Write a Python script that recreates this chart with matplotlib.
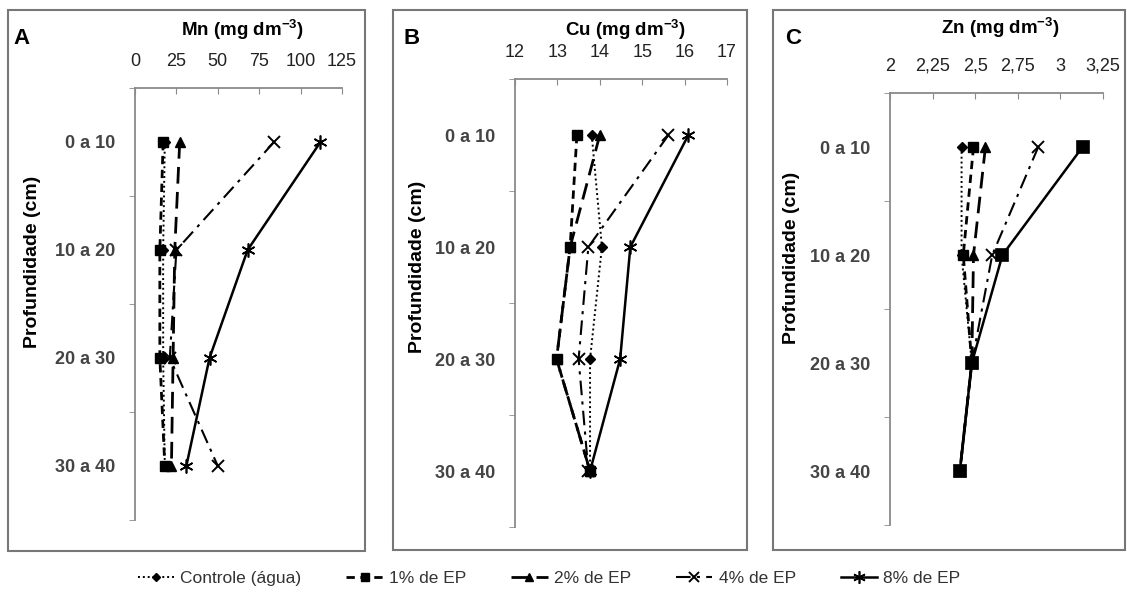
import matplotlib
matplotlib.use("Agg")
import matplotlib.pyplot as plt
from matplotlib.patches import Rectangle
from matplotlib.lines import Line2D

plt.rcParams['font.family'] = ['Liberation Sans', 'DejaVu Sans']
plt.rcParams['mathtext.default'] = 'regular'

depths = ["0 a 10", "10 a 20", "20 a 30", "30 a 40"]
series = ["Controle (água)", "1% de EP", "2% de EP", "4% de EP", "8% de EP"]

# Mn (mg dm-3)
mn_controle = [18, 17, 17, 18]
mn_1 = [17, 15, 15, 18]
mn_2 = [27, 24, 23, 22]
mn_4 = [84, 25, 21, 50]
mn_8 = [112, 68, 45, 31]

# Cu (mg dm-3)
cu_controle = [13.81, 14.05, 13.77, 13.77]
cu_1 = [13.46, 13.30, 12.98, 13.77]
cu_2 = [14.00, 13.30, 12.98, 13.77]
cu_4 = [15.62, 13.73, 13.50, 13.73]
cu_8 = [16.09, 14.72, 14.48, 13.77]

# Zn (mg dm-3)
zn_controle = [2.42, 2.42, 2.48, 2.41]
zn_1 = [2.49, 2.43, 2.48, 2.41]
zn_2 = [2.56, 2.49, 2.48, 2.41]
zn_4 = [2.87, 2.60, 2.48, 2.41]
zn_8 = [3.13, 2.66, 2.48, 2.41]

mn_ticks = [0, 25, 50, 75, 100, 125]
mn_labels = ["0", "25", "50", "75", "100", "125"]
cu_ticks = [12, 13, 14, 15, 16, 17]
cu_labels = ["12", "13", "14", "15", "16", "17"]
zn_ticks = [2, 2.25, 2.5, 2.75, 3, 3.25]
zn_labels = ["2", "2,25", "2,5", "2,75", "3", "3,25"]

W, H = 1127, 608
fig = plt.figure(figsize=(W / 100, H / 100), dpi=100)

asterisk = (6, 2, 0)
styles = [
    dict(ls=(0, (1, 1.5)), lw=1.4, marker='D', ms=5),
    dict(ls=(0, (3, 2)), lw=2.0, marker='s', ms=7),
    dict(ls=(0, (6, 3)), lw=2.0, marker='^', ms=7),
    dict(ls=(0, (7, 3, 1.5, 3)), lw=1.5, marker='x', ms=8, mew=1.4),
    dict(ls='-', lw=1.8, marker=asterisk, ms=10, mew=1.2),
]

gray = '#8a8a8a'
ypos = [0.5, 1.5, 2.5, 3.5]


def px(x0, y_top, x1, y_bot):
    return [x0 / W, 1 - y_bot / H, (x1 - x0) / W, (y_bot - y_top) / H]


def panel(rect, data, xlim, ticks, labels, title, letter, box, letter_xy, ylab_xy, title_y, last_marker=None):
    ax = fig.add_axes(rect)
    for i, vals in enumerate(data):
        st = dict(styles[i])
        if i == 4 and last_marker:
            st['marker'] = last_marker
            st['ms'] = 8
        ax.plot(vals, ypos, color='black', zorder=3 + i, clip_on=False, **st)
    ax.set_xlim(xlim)
    ax.set_ylim(4, 0)
    ax.xaxis.tick_top()
    ax.set_xticks(ticks)
    ax.set_xticklabels(labels, fontsize=13, color='#222222')
    ax.tick_params(axis='x', direction='in', length=4, color=gray, pad=13)
    ax.set_yticks(ypos)
    ax.set_yticklabels(depths, fontsize=13, fontweight='bold', color='#444444')
    ax.tick_params(axis='y', length=0, pad=14)
    ax.set_yticks([0, 1, 2, 3, 4], minor=True)
    ax.tick_params(axis='y', which='minor', direction='out', length=4, color=gray)
    for s in ['right', 'bottom']:
        ax.spines[s].set_visible(False)
    for s in ['left', 'top']:
        ax.spines[s].set_color(gray)
        ax.spines[s].set_linewidth(1.3)
    ax.patch.set_alpha(0)
    x0, y0, x1, y1 = box
    fig.patches.append(Rectangle((x0 / W, 1 - y1 / H), (x1 - x0) / W, (y1 - y0) / H,
                                 transform=fig.transFigure, fill=False,
                                 edgecolor='#777777', lw=1.5))
    fig.text(letter_xy[0] / W, 1 - letter_xy[1] / H, letter, fontsize=16,
             fontweight='bold', ha='center', va='center')
    fig.text((rect[0] + rect[2] * 0.52), 1 - title_y / H, title, fontsize=13.5,
             fontweight='bold', ha='center', va='center')
    fig.text(ylab_xy[0] / W, 1 - ylab_xy[1] / H, "Profundidade (cm)", fontsize=14,
             fontweight='bold', rotation=90, ha='center', va='center')
    return ax


panel(px(135, 88, 342, 520), [mn_controle, mn_1, mn_2, mn_4, mn_8], (0, 125),
      mn_ticks, mn_labels, r"Mn (mg dm$^{-3}$)", "A", (8, 10, 365, 551),
      (22, 38), (33, 262), 30)
panel(px(515, 79, 727, 527), [cu_controle, cu_1, cu_2, cu_4, cu_8], (12, 17),
      cu_ticks, cu_labels, r"Cu (mg dm$^{-3}$)", "B", (393, 10, 747, 550),
      (412, 38), (417, 267), 30)
panel(px(890, 93, 1103, 525), [zn_controle, zn_1, zn_2, zn_4, zn_8], (2, 3.25),
      zn_ticks, zn_labels, r"Zn (mg dm$^{-3}$)", "C", (773, 10, 1125, 550),
      (793, 38), (792, 258), 28, last_marker='s')

handles = []
for i, name in enumerate(series):
    st = dict(styles[i])
    st['ms'] = st['ms'] * 0.9
    handles.append(Line2D([], [], color='black', label=name, **st))
leg = fig.legend(handles=handles, loc='center', bbox_to_anchor=(549 / W, 1 - 578 / H),
                 ncol=5, frameon=False, handlelength=2.1,
                 columnspacing=2.6, handletextpad=0.35,
                 prop={'family': ['Liberation Sans'], 'size': 12.5})
for t in leg.get_texts():
    t.set_color('#333333')

fig.savefig("out.png", dpi=100)
